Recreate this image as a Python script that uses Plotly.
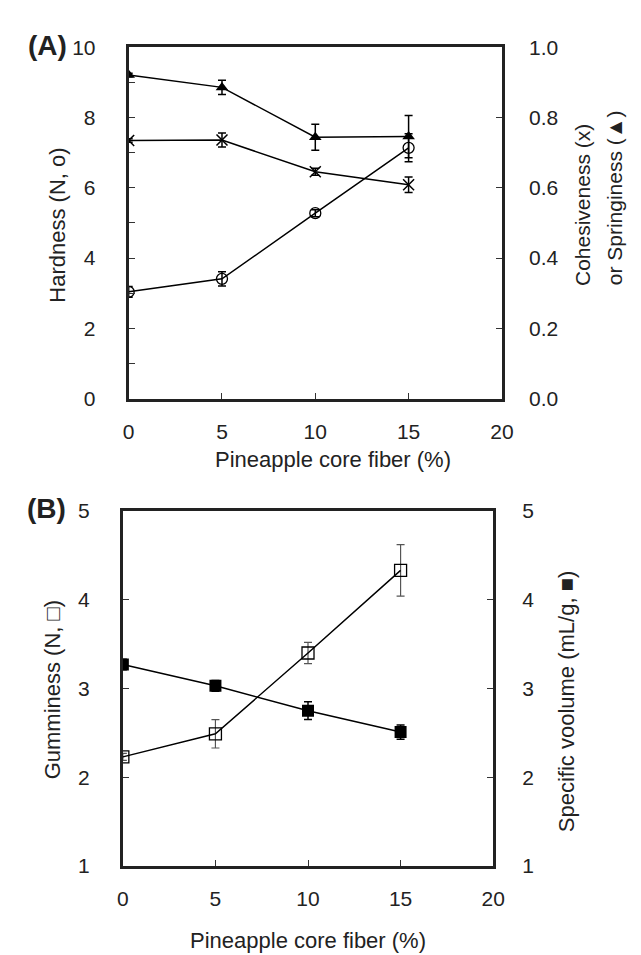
import plotly.graph_objects as go

# ---- data ----
fiber = [0, 5, 10, 15]

hardness = [3.04, 3.41, 5.28, 7.14]
hardness_err = [0.15, 0.2, 0.1, 0.4]
cohesiveness = [0.735, 0.736, 0.646, 0.609]
cohesiveness_err = [0.005, 0.02, 0.01, 0.022]
springiness = [0.921, 0.886, 0.744, 0.746]
springiness_err = [0.005, 0.02, 0.037, 0.06]

gumminess = [2.23, 2.49, 3.40, 4.33]
gumminess_err = [0.04, 0.16, 0.12, 0.29]
spec_volume = [3.27, 3.03, 2.75, 2.51]
spec_volume_err = [0.06, 0.06, 0.1, 0.08]

x_ticks = [0, 5, 10, 15, 20]
hard_ticks = [0, 2, 4, 6, 8, 10]
ratio_ticks = [0.0, 0.2, 0.4, 0.6, 0.8, 1.0]
b_ticks = [1, 2, 3, 4, 5]

FONT = "Liberation Sans, Arial, Helvetica, sans-serif"
W, H = 641, 955

fig = go.Figure()

def err(arr, color="black", thick=1.5, width=4):
    return dict(type="data", array=arr, visible=True, color=color, thickness=thick, width=width)

line = dict(color="black", width=1.5)

# Panel A
fig.add_trace(go.Scatter(x=fiber, y=hardness, xaxis="x", yaxis="y", mode="lines+markers",
                         line=line, error_y=err(hardness_err),
                         marker=dict(symbol="circle-open", size=11, color="black", line=dict(width=1.3))))
fig.add_trace(go.Scatter(x=fiber, y=cohesiveness, xaxis="x", yaxis="y2", mode="lines+markers",
                         line=line, error_y=err(cohesiveness_err),
                         marker=dict(symbol="x-thin-open", size=11, color="black", line=dict(width=1.5, color="black"))))
fig.add_trace(go.Scatter(x=fiber, y=springiness, xaxis="x", yaxis="y2", mode="lines+markers",
                         line=line, error_y=err(springiness_err),
                         marker=dict(symbol="triangle-up", size=11, color="black")))

# Panel B
fig.add_trace(go.Scatter(x=fiber, y=gumminess, xaxis="x2", yaxis="y3", mode="lines+markers",
                         line=line, error_y=err(gumminess_err, color="#555555", thick=1.2),
                         marker=dict(symbol="square-open", size=12, color="black", line=dict(width=1.3))))
fig.add_trace(go.Scatter(x=fiber, y=spec_volume, xaxis="x2", yaxis="y4", mode="lines+markers",
                         line=line, error_y=err(spec_volume_err),
                         marker=dict(symbol="square", size=12, color="black")))

tickfont = dict(family=FONT, size=21, color="#222222")
frame = dict(showline=True, linecolor="#222222", linewidth=3, showgrid=False, zeroline=False,
             ticks="inside", ticklen=6, tickwidth=1, tickcolor="#333333", tickfont=tickfont)

A_dom_x = [118 / W, 502 / W]
A_dom_y = [1 - 388 / H, 1 - 28 / H]
B_dom_x = [112 / W, 493 / W]
B_dom_y = [1 - 867 / H, 1 - 503 / H]

fig.update_layout(
    width=W, height=H, margin=dict(l=0, r=0, t=0, b=0),
    paper_bgcolor="white", plot_bgcolor="white", showlegend=False,
    font=dict(family=FONT, size=21, color="#222222"),
    xaxis=dict(**frame, domain=A_dom_x, anchor="y", range=[0, 20], tickvals=x_ticks,
               mirror=True, ticklabelstandoff=12),
    yaxis=dict(**frame, domain=A_dom_y, anchor="x", range=[0, 10], tickvals=hard_ticks,
               ticklabelstandoff=26,
               minor=dict(dtick=1, ticks="inside", ticklen=6, tickcolor="#333333", tickwidth=1)),
    yaxis2=dict(**frame, domain=A_dom_y, anchor="x", overlaying="y", side="right", range=[0, 1],
                tickvals=ratio_ticks, tickformat=".1f", ticklabelstandoff=20),
    xaxis2=dict(**frame, domain=B_dom_x, anchor="y3", range=[0, 20], tickvals=x_ticks,
                mirror=True, ticklabelstandoff=12),
    yaxis3=dict(**frame, domain=B_dom_y, anchor="x2", range=[1, 5], tickvals=b_ticks,
                ticklabelstandoff=26),
    yaxis4=dict(**frame, domain=B_dom_y, anchor="x2", overlaying="y3", side="right", range=[1, 5],
                tickvals=b_ticks, ticklabelstandoff=22),
)

ann = []
def txt(text, x, y, angle=0, size=22, bold=False, xanchor="center", yanchor="middle"):
    ann.append(dict(text=f"<b>{text}</b>" if bold else text, x=x / W, y=1 - y / H, xref="paper", yref="paper",
                    showarrow=False, textangle=angle, xanchor=xanchor, yanchor=yanchor,
                    font=dict(family=FONT, size=size, color="#222222")))

txt("(A)", 34, 26, size=28, bold=True)
txt("(B)", 33, 501, size=28, bold=True)
txt("Hardness (N, o)", 45, 210, angle=-90)
txt("Cohesiveness (x)", 585, 190, angle=-90, size=21)
txt("or Springiness (\u25B2)", 618, 182, angle=-90, size=21)
txt("Pineapple core fiber (%)", 328, 450)
txt("Gumminess (N, \u25A1)", 40, 686, angle=-90)
txt("Specific voolume (mL/g, \u25A0)", 568, 698, angle=-90)
txt("Pineapple core fiber (%)", 303, 943)
fig.update_layout(annotations=ann)

fig.write_html("out.html")
